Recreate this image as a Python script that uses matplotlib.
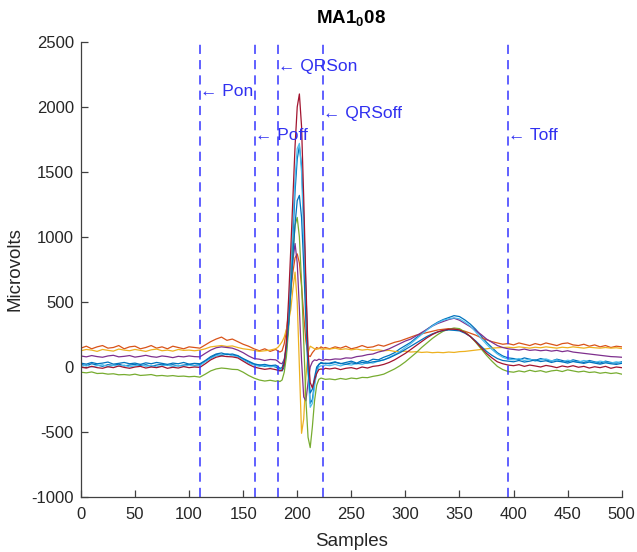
import matplotlib
matplotlib.use("Agg")
import matplotlib.pyplot as plt

plt.rcParams['font.family'] = ['Liberation Sans', 'DejaVu Sans']
plt.rcParams['mathtext.fontset'] = 'custom'
plt.rcParams['mathtext.rm'] = 'Liberation Sans'
plt.rcParams['mathtext.bf'] = 'Liberation Sans:bold'
plt.rcParams['axes.unicode_minus'] = False

# sample positions (pre-QRS, QRS, post-QRS)
SAMPLES = list(range(0, 181, 5)) + list(range(182, 227, 2)) + list(range(230, 501, 5))

# ---- lead values (microvolts) ----
blue1_pre = [20, 10, 25, 15, 5, 18, 12, 22, 8, 15, 20, 10, 18, 5, 15, 22, 12, 18, 8, 15, 20, 12, 18,
             45, 70, 95, 88, 102, 90, 85, 60, 40, 20, 15, 5, 12, 0]
blue1_qrs = [-10, -25, -30, 0, 120, 350, 650, 1000, 1350, 1600, 1700, 1550, 1150, 600, 80, -280, -250,
             -120, -30, 20, 35, 30, 25]
blue1_post = [30, 40, 25, 35, 45, 30, 50, 40, 60, 55, 75, 90, 110, 140, 165, 190, 225, 255, 290, 320, 345,
              365, 380, 395, 388, 362, 330, 290, 240, 190, 150, 110, 85, 70, 65, 55, 70, 60, 50, 65, 55, 45,
              60, 50, 40, 55, 45, 35, 50, 40, 30, 45, 35, 30, 40]

orange_pre = [145, 160, 140, 155, 165, 145, 150, 165, 140, 155, 160, 140, 150, 165, 145, 155, 140, 160, 150,
              140, 155, 150, 145, 170, 195, 215, 230, 205, 215, 195, 175, 160, 140, 125, 140, 120, 135]
orange_qrs = [125, 115, 125, 180, 280, 420, 580, 730, 840, 870, 800, 620, 400, 200, 90, 80, 110, 130, 150,
              140, 155, 145, 150]
orange_post = [140, 155, 145, 160, 140, 150, 165, 150, 155, 170, 160, 175, 190, 200, 215, 230, 245, 255, 265,
               275, 285, 290, 295, 290, 285, 275, 260, 245, 225, 210, 195, 185, 175, 180, 170, 185, 175, 165,
               180, 170, 185, 175, 165, 180, 185, 170, 165, 175, 160, 170, 155, 165, 150, 160, 155]

yellow_pre = [125, 135, 130, 120, 135, 128, 122, 138, 130, 125, 135, 128, 120, 132, 138, 125, 130, 122, 135,
              128, 130, 125, 130, 140, 155, 160, 165, 158, 162, 150, 140, 135, 128, 120, 125, 130, 140]
yellow_qrs = [150, 170, 195, 230, 290, 350, 440, 600, 730, 500, 0, -510, -400, -80, 110, 160, 150, 140, 135,
              145, 140, 135, 140]
yellow_post = [138, 145, 135, 140, 132, 138, 130, 135, 128, 132, 125, 128, 120, 118, 122, 115, 118, 112, 115,
               110, 113, 110, 115, 112, 118, 120, 125, 130, 135, 140, 145, 148, 150, 152, 148, 155, 150, 145,
               152, 148, 155, 150, 145, 152, 148, 155, 150, 145, 152, 148, 145, 150, 145, 148, 142]

purple_pre = [85, 78, 88, 80, 75, 85, 90, 78, 82, 88, 76, 82, 90, 80, 75, 85, 80, 72, 82, 78, 85, 80, 78,
              105, 130, 148, 155, 150, 145, 130, 110, 85, 65, 60, 50, 58, 55]
purple_qrs = [45, 30, 25, 60, 150, 330, 580, 820, 950, 800, 450, 50, -230, -260, -120, 0, 40, 55, 50, 60,
              55, 50, 58]
purple_post = [55, 62, 60, 70, 68, 80, 85, 95, 100, 115, 125, 140, 160, 180, 200, 215, 240, 265, 290, 315,
               335, 350, 365, 375, 360, 335, 310, 280, 250, 215, 190, 165, 150, 140, 135, 130, 138, 128, 132,
               125, 130, 122, 128, 118, 125, 115, 110, 105, 100, 95, 90, 85, 80, 78, 75]

green_pre = [-40, -45, -38, -50, -48, -55, -52, -60, -58, -62, -55, -65, -62, -58, -68, -65, -70, -66, -72,
             -70, -75, -72, -78, -55, -30, -15, -8, -12, -18, -20, -40, -65, -85, -100, -108, -102, -110]
green_qrs = [-105, -112, -100, -40, 80, 290, 580, 880, 1090, 1150, 1000, 650, 200, -250, -540, -620, -460,
             -260, -140, -95, -85, -90, -95]
green_post = [-92, -98, -88, -95, -85, -90, -80, -82, -72, -65, -55, -35, -15, 10, 40, 75, 110, 150, 185, 220,
              250, 275, 290, 300, 295, 270, 235, 190, 140, 90, 45, 5, -20, -35, -40, -30, -38, -25, -35, -28,
              -40, -30, -25, -35, -22, -30, -38, -32, -42, -38, -48, -42, -50, -45, -55]

ltblue_pre = [5, 15, 0, 10, 18, 2, 12, 5, 15, 0, 10, 20, 5, 12, 0, 10, 15, 3, 12, 5, 15, 8, 10,
              40, 65, 85, 95, 100, 88, 80, 55, 30, 15, 5, 12, 0, 8]
ltblue_qrs = [0, -20, -15, 40, 180, 420, 750, 1100, 1450, 1680, 1720, 1500, 1000, 450, -50, -310, -280, -150,
              -40, 0, 10, 5, 15]
ltblue_post = [10, 20, 8, 22, 15, 28, 20, 35, 30, 45, 55, 75, 95, 120, 150, 180, 215, 250, 285, 315, 340, 360,
               370, 378, 370, 345, 315, 270, 220, 175, 135, 100, 75, 60, 55, 65, 50, 60, 45, 55, 62, 48, 55,
               40, 52, 45, 38, 50, 42, 35, 45, 38, 30, 40, 32]

darkred_pre = [0, -8, 5, -5, -10, 2, -5, 8, -3, -10, 0, 5, -8, 0, -5, 5, -10, -2, -8, 3, -5, 0, -3,
               25, 55, 75, 85, 80, 78, 70, 45, 20, 0, -10, -18, -12, -20]
darkred_qrs = [-25, -30, -25, 30, 200, 520, 900, 1300, 1700, 2000, 2100, 1850, 1300, 650, 120, -120, -160,
               -100, -50, -20, -15, -20, -10]
darkred_post = [-15, -8, -20, -10, -5, -15, 0, -8, 5, 10, 20, 35, 55, 80, 105, 135, 165, 195, 225, 250, 270,
                282, 290, 292, 285, 265, 235, 195, 150, 105, 70, 40, 25, 15, 10, 18, 5, 15, 8, 0, 12, 5, -5,
                8, 0, 10, -2, 5, -8, 2, -5, 5, -10, 0, -5]

blue2_pre = [30, 22, 35, 25, 30, 38, 22, 28, 35, 25, 30, 20, 32, 25, 35, 28, 20, 30, 25, 35, 22, 28, 25,
             50, 80, 100, 108, 95, 100, 88, 65, 45, 25, 15, 20, 10, 15]
blue2_qrs = [5, -10, -5, 50, 150, 330, 580, 850, 1100, 1280, 1320, 1150, 780, 350, -20, -200, -170, -80, 0,
             20, 30, 25, 30]
blue2_post = [25, 35, 28, 20, 32, 25, 35, 30, 40, 45, 55, 70, 90, 110, 135, 160, 185, 210, 235, 255, 270, 280,
              285, 282, 278, 260, 235, 200, 160, 120, 90, 65, 50, 45, 40, 50, 38, 45, 55, 42, 48, 35, 45, 40,
              30, 42, 35, 28, 38, 30, 22, 32, 25, 20, 28]

LEADS = [
    (blue1_pre + blue1_qrs + blue1_post, '#0072BD'),
    (orange_pre + orange_qrs + orange_post, '#D95319'),
    (yellow_pre + yellow_qrs + yellow_post, '#EDB120'),
    (purple_pre + purple_qrs + purple_post, '#7E2F8E'),
    (green_pre + green_qrs + green_post, '#77AC30'),
    (ltblue_pre + ltblue_qrs + ltblue_post, '#4DBEEE'),
    (blue2_pre + blue2_qrs + blue2_post, '#0072BD'),
    (darkred_pre + darkred_qrs + darkred_post, '#A2142F'),
]

# fiducial markers
MARK_NAMES = ['Pon', 'Poff', 'QRSon', 'QRSoff', 'Toff']
MARK_POS = [110, 161, 182, 224, 395]
MARK_LABEL_Y = [2120, 1780, 2310, 1950, 1780]

X_TICKS = list(range(0, 501, 50))
Y_TICKS = list(range(-1000, 2501, 500))

fig = plt.figure(figsize=(6.37, 5.52), dpi=100)
ax = fig.add_axes([0.127, 0.0996, 0.849, 0.8244])

for vals, col in LEADS:
    ax.plot(SAMPLES, vals, color=col, lw=0.9)

for name, pos, ly in zip(MARK_NAMES, MARK_POS, MARK_LABEL_Y):
    ax.axvline(pos, color='#3535ff', ls=(0, (6, 4)), lw=1.1)
    ax.text(pos, ly, '\u2190 ' + name, color='#3030f0', fontsize=12.5, va='center', ha='left')

ax.set_xlim(0, 500)
ax.set_ylim(-1000, 2500)
ax.set_xticks(X_TICKS)
ax.set_yticks(Y_TICKS)
for s in ['top', 'right']:
    ax.spines[s].set_visible(False)
for s in ['left', 'bottom']:
    ax.spines[s].set_color('#404040')
    ax.spines[s].set_linewidth(0.9)
ax.tick_params(direction='in', length=5, width=0.9, colors='#404040', labelsize=12, pad=5)
ax.tick_params(axis='x', pad=7)
for lab in ax.get_xticklabels() + ax.get_yticklabels():
    lab.set_color('#262626')
ax.set_xlabel('Samples', fontsize=13.5, color='#262626', labelpad=8)
ax.set_ylabel('Microvolts', fontsize=13.5, color='#262626', labelpad=6)
ax.set_title(r'MA1$_\mathbf{0}$08', fontsize=13.5, fontweight='bold', pad=13)

fig.savefig('out.png', dpi=100)
